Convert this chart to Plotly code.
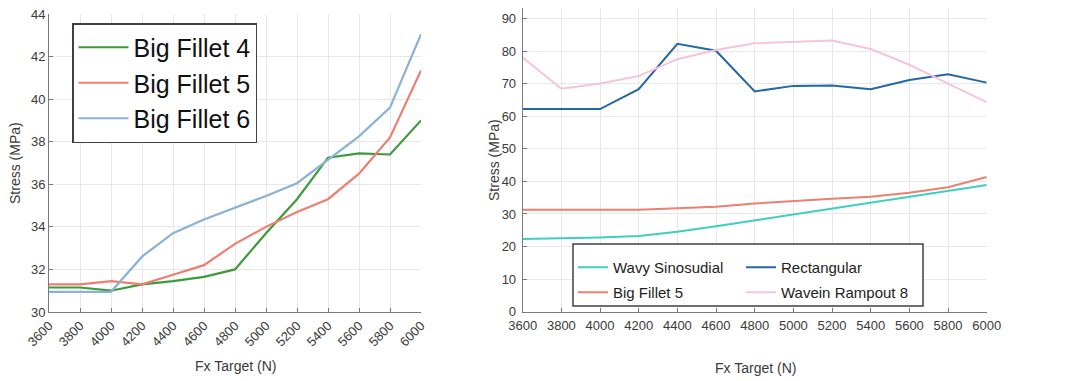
import plotly.graph_objects as go

# Fx target load steps (N)
fx = [3600, 3800, 4000, 4200, 4400, 4600, 4800, 5000, 5200, 5400, 5600, 5800, 6000]

# Left panel: big fillet variants (MPa)
big_fillet_4 = [31.15, 31.15, 31.0, 31.3, 31.45, 31.65, 32.0, 33.7, 35.3, 37.25, 37.45, 37.4, 39.0]
big_fillet_5 = [31.3, 31.3, 31.45, 31.3, 31.75, 32.2, 33.2, 34.0, 34.7, 35.3, 36.5, 38.2, 41.35]
big_fillet_6 = [30.95, 30.95, 30.95, 32.6, 33.7, 34.35, 34.9, 35.45, 36.05, 37.15, 38.25, 39.6, 43.05]

# Right panel: geometry comparison (MPa)
wavy_sinosudial = [22.3, 22.5, 22.8, 23.2, 24.5, 26.2, 28.0, 30.0, 31.8, 33.6, 35.4, 37.2, 38.9]
rectangular = [62.2, 62.2, 62.2, 68.3, 82.2, 80.1, 67.6, 69.3, 69.4, 68.3, 71.1, 72.9, 70.3]
wavein_rampout_8 = [78.0, 68.4, 70.0, 72.3, 77.5, 80.3, 82.4, 82.9, 83.2, 80.6, 75.8, 70.0, 64.3]

x_ticks = list(range(3600, 6001, 200))

W, H = 1079, 381
FONT = "Liberation Sans, Arial, sans-serif"
TXT = "#3a3a3a"
GRID = "#e8e8e8"
AX = "#7a7a7a"

C_GREEN = "#3d9a3d"
C_RED = "#ee7e70"
C_LBLUE = "#8ab2d3"
C_TEAL = "#3fcfbf"
C_DBLUE = "#2467a6"
C_PINK = "#f6c4da"

fig = go.Figure()

# left panel
fig.add_trace(go.Scatter(x=fx, y=big_fillet_4, mode="lines", name="Big Fillet 4",
                         line=dict(color=C_GREEN, width=2.2), xaxis="x", yaxis="y", legend="legend"))
fig.add_trace(go.Scatter(x=fx, y=big_fillet_5, mode="lines", name="Big Fillet 5",
                         line=dict(color=C_RED, width=2.2), xaxis="x", yaxis="y", legend="legend"))
fig.add_trace(go.Scatter(x=fx, y=big_fillet_6, mode="lines", name="Big Fillet 6",
                         line=dict(color=C_LBLUE, width=2.2), xaxis="x", yaxis="y", legend="legend"))

# right panel, one legend per entry laid out in a 2x2 grid
fig.add_trace(go.Scatter(x=fx, y=wavy_sinosudial, mode="lines", name="Wavy Sinosudial",
                         line=dict(color=C_TEAL, width=2), xaxis="x2", yaxis="y2", legend="legend2"))
fig.add_trace(go.Scatter(x=fx, y=rectangular, mode="lines", name="Rectangular",
                         line=dict(color=C_DBLUE, width=2), xaxis="x2", yaxis="y2", legend="legend3"))
fig.add_trace(go.Scatter(x=fx, y=big_fillet_5, mode="lines", name="Big Fillet 5",
                         line=dict(color=C_RED, width=2), xaxis="x2", yaxis="y2", legend="legend4"))
fig.add_trace(go.Scatter(x=fx, y=wavein_rampout_8, mode="lines", name="Wavein Rampout 8",
                         line=dict(color=C_PINK, width=2), xaxis="x2", yaxis="y2", legend="legend5"))

axis_common = dict(
    showgrid=True, gridcolor=GRID, gridwidth=1,
    showline=True, linecolor=AX, linewidth=1,
    ticks="inside", ticklen=4, tickcolor=AX,
    tickfont=dict(family=FONT, size=13, color=TXT),
    zeroline=False, mirror=False, automargin=False,
)


def px(xp):
    return xp / W


def py(yp):
    return 1 - yp / H


fig.update_layout(
    width=W, height=H,
    margin=dict(l=0, r=0, t=0, b=0),
    paper_bgcolor="white", plot_bgcolor="white",
    font=dict(family=FONT, color=TXT),
    showlegend=True,
    xaxis=dict(axis_common, domain=[px(49), px(421)], range=[3600, 6000],
               tickvals=x_ticks, tickangle=-45, anchor="y"),
    yaxis=dict(axis_common, domain=[py(312), py(14)], range=[30, 44],
               tickvals=list(range(30, 45, 2)), anchor="x"),
    xaxis2=dict(axis_common, domain=[px(522.7), px(986.7)], range=[3600, 6000],
                tickvals=x_ticks, tickangle=0, anchor="y2", ticklabelstandoff=2),
    yaxis2=dict(axis_common, domain=[py(311.7), py(8)], range=[0, 93.2],
                tickvals=list(range(0, 91, 10)), anchor="x2", ticklabelstandoff=3),
    legend=dict(x=px(72), y=py(23), xanchor="left", yanchor="top",
                bgcolor="white", bordercolor="#404040", borderwidth=1.5,
                font=dict(family=FONT, size=25, color="#111111"),
                tracegroupgap=0, itemwidth=50),
)

leg_font = dict(family=FONT, size=15, color="#222222")
for name, xp, yp in [("legend2", 573, 251), ("legend3", 741, 251),
                     ("legend4", 573, 276), ("legend5", 741, 276)]:
    fig.update_layout({name: dict(x=px(xp), y=py(yp), xanchor="left", yanchor="top",
                                  bgcolor="rgba(0,0,0,0)", borderwidth=0, font=leg_font,
                                  itemwidth=30)})

# frame behind the right-hand legend entries
fig.add_shape(type="rect", xref="paper", yref="paper",
              x0=px(573), x1=px(923), y0=py(306), y1=py(244),
              fillcolor="white", line=dict(color="#404040", width=1.5), layer="above")

# axis titles
title_font = dict(family=FONT, size=14, color=TXT)
fig.add_annotation(text="Fx Target (N)", x=px(235), y=py(366), xref="paper", yref="paper",
                   showarrow=False, font=title_font, xanchor="center", yanchor="middle")
fig.add_annotation(text="Stress (MPa)", x=px(15), y=py(163), xref="paper", yref="paper",
                   showarrow=False, font=title_font, textangle=-90, xanchor="center", yanchor="middle")
fig.add_annotation(text="Fx Target (N)", x=px(755), y=py(368), xref="paper", yref="paper",
                   showarrow=False, font=title_font, xanchor="center", yanchor="middle")
fig.add_annotation(text="Stress (MPa)", x=px(494), y=py(160), xref="paper", yref="paper",
                   showarrow=False, font=title_font, textangle=-90, xanchor="center", yanchor="middle")

fig.write_html("out.html")
